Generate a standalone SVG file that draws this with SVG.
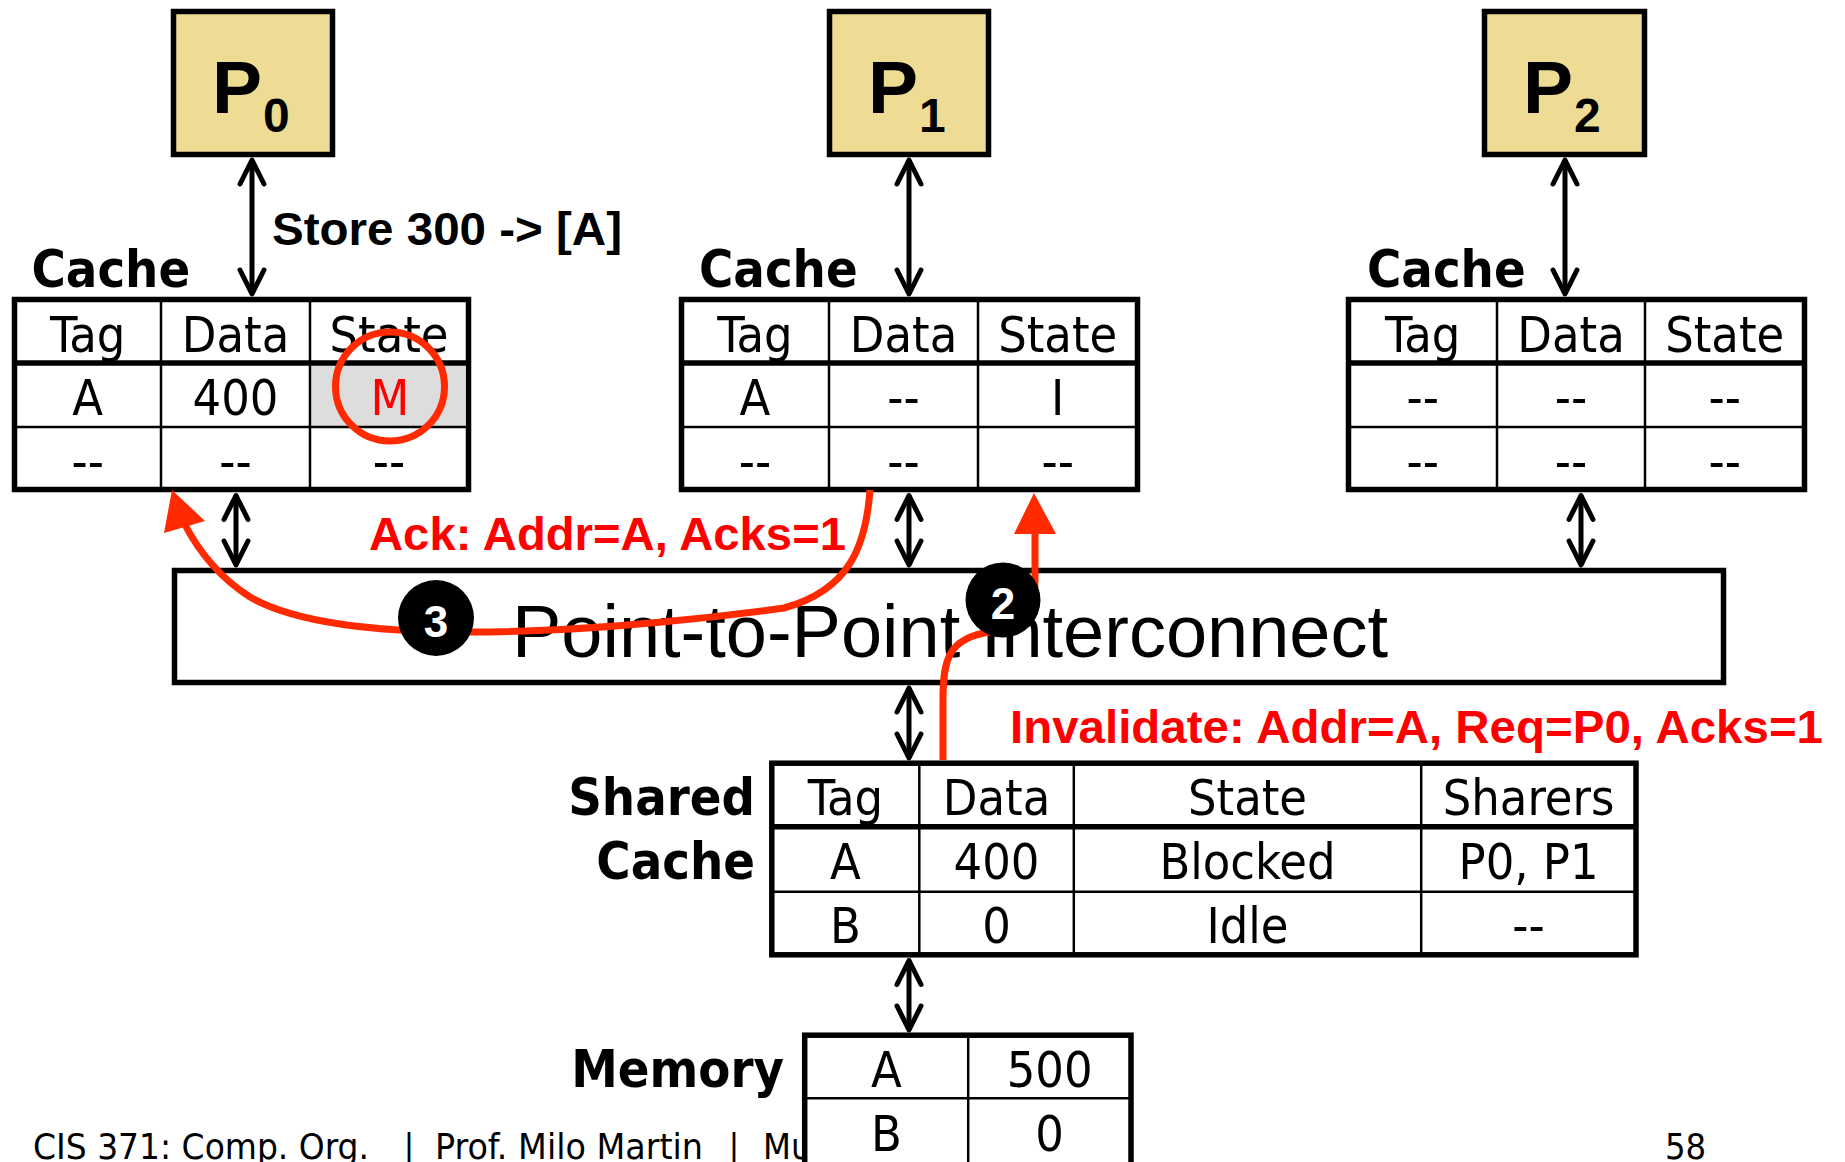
<svg xmlns="http://www.w3.org/2000/svg" width="1845" height="1162" viewBox="0 0 1845 1162">
<style>
.box{fill:#EEDC95;stroke:#000;stroke-width:5.5}
.tbl{fill:#fff;stroke:#000;stroke-width:5.5}
.thick{stroke:#000;stroke-width:5.5}
.thin{stroke:#000;stroke-width:2.5}
.cell{font-family:'DejaVu Sans Condensed','DejaVu Sans',sans-serif;font-size:50px;text-anchor:middle;fill:#000}
.lbl{font-family:'DejaVu Sans Condensed','DejaVu Sans',sans-serif;font-weight:bold;font-size:52px;fill:#000}
.ptxt{font-family:'Liberation Sans',Arial,sans-serif;font-weight:bold;fill:#000}
.arr{stroke:#000;stroke-width:5;fill:none;marker-start:url(#ch);marker-end:url(#ch)}
.red{stroke:#FF2A00;stroke-width:7;fill:none}
.redhead{fill:#FF2A00}
.rtxt{font-family:'Liberation Sans',Arial,sans-serif;font-weight:bold;font-size:47px;fill:#FF0000}
.badge{fill:#000}
.btxt{font-family:'Liberation Sans',Arial,sans-serif;font-weight:bold;font-size:44px;fill:#fff;text-anchor:middle}
.foot{font-family:'DejaVu Sans Condensed','DejaVu Sans',sans-serif;font-size:36px;fill:#000}
</style>
<defs>
<marker id="ch" viewBox="-30 -15 34 30" refX="0" refY="0" markerWidth="34" markerHeight="30" markerUnits="userSpaceOnUse" orient="auto-start-reverse" overflow="visible">
<path d="M-24,-12 L0,0 L-24,12" fill="none" stroke="#000" stroke-width="5" stroke-linecap="round" stroke-linejoin="round"/>
</marker>
</defs>
<rect x="0" y="0" width="1845" height="1162" fill="#fff"/>

<!-- footer (partly covered by memory table) -->
<g id="footer" class="foot">
<text x="33" y="1159" textLength="336" lengthAdjust="spacingAndGlyphs">CIS 371: Comp. Org.</text>
<text x="409" y="1159" text-anchor="middle">|</text>
<text x="435" y="1159" textLength="268" lengthAdjust="spacingAndGlyphs">Prof. Milo Martin</text>
<text x="734" y="1159" text-anchor="middle">|</text>
<text x="763" y="1159">Mu</text>
<text x="1665" y="1159">58</text>
</g>

<!-- processors -->
<g id="p0">
<rect class="box" x="173.5" y="11.5" width="159" height="143"/>
<text class="ptxt" x="212" y="113" font-size="75">P</text>
<text class="ptxt" x="263" y="132" font-size="48">0</text>
</g>
<g id="p1">
<rect class="box" x="829.5" y="11.5" width="159" height="143"/>
<text class="ptxt" x="868" y="113" font-size="75">P</text>
<text class="ptxt" x="919" y="132" font-size="48">1</text>
</g>
<g id="p2">
<rect class="box" x="1484.5" y="11.5" width="160" height="143"/>
<text class="ptxt" x="1523" y="113" font-size="75">P</text>
<text class="ptxt" x="1574" y="132" font-size="48">2</text>
</g>

<!-- private caches -->
<g id="cache0">
<text class="lbl" x="31.5" y="287">Cache</text>
<rect class="tbl" x="14.5" y="299.5" width="454" height="190"/>
<rect x="311.5" y="365.5" width="154" height="60.5" fill="#DDDDDD"/>
<line class="thick" x1="14.5" y1="363" x2="468.5" y2="363"/>
<line class="thin" x1="14.5" y1="427" x2="468.5" y2="427"/>
<line class="thin" x1="161" y1="299.5" x2="161" y2="489.5"/>
<line class="thin" x1="310" y1="299.5" x2="310" y2="489.5"/>
<text class="cell" x="87.7" y="352">Tag</text>
<text class="cell" x="235.5" y="352">Data</text>
<text class="cell" x="389" y="352">State</text>
<text class="cell" x="87.7" y="415">A</text>
<text class="cell" x="235.5" y="415">400</text>
<text class="cell" x="390" y="415" style="fill:#FF0000">M</text>
<text class="cell" x="87.7" y="479">--</text>
<text class="cell" x="235.5" y="479">--</text>
<text class="cell" x="389" y="479">--</text>
<circle cx="390" cy="386.5" r="54.5" fill="none" stroke="#FF2A00" stroke-width="7"/>
</g>
<g id="cache1">
<text class="lbl" x="699" y="287">Cache</text>
<rect class="tbl" x="681.5" y="299.5" width="456" height="190"/>
<line class="thick" x1="681.5" y1="363" x2="1137.5" y2="363"/>
<line class="thin" x1="681.5" y1="427" x2="1137.5" y2="427"/>
<line class="thin" x1="829" y1="299.5" x2="829" y2="489.5"/>
<line class="thin" x1="978" y1="299.5" x2="978" y2="489.5"/>
<text class="cell" x="755" y="352">Tag</text>
<text class="cell" x="903.5" y="352">Data</text>
<text class="cell" x="1057.7" y="352">State</text>
<text class="cell" x="755" y="415">A</text>
<text class="cell" x="903.5" y="415">--</text>
<text class="cell" x="1057.7" y="415">I</text>
<text class="cell" x="755" y="479">--</text>
<text class="cell" x="903.5" y="479">--</text>
<text class="cell" x="1057.7" y="479">--</text>
</g>
<g id="cache2">
<text class="lbl" x="1367" y="287">Cache</text>
<rect class="tbl" x="1348.5" y="299.5" width="456" height="190"/>
<line class="thick" x1="1348.5" y1="363" x2="1804.5" y2="363"/>
<line class="thin" x1="1348.5" y1="427" x2="1804.5" y2="427"/>
<line class="thin" x1="1497" y1="299.5" x2="1497" y2="489.5"/>
<line class="thin" x1="1645" y1="299.5" x2="1645" y2="489.5"/>
<text class="cell" x="1422.7" y="352">Tag</text>
<text class="cell" x="1571" y="352">Data</text>
<text class="cell" x="1724.7" y="352">State</text>
<text class="cell" x="1422.7" y="415">--</text>
<text class="cell" x="1571" y="415">--</text>
<text class="cell" x="1724.7" y="415">--</text>
<text class="cell" x="1422.7" y="479">--</text>
<text class="cell" x="1571" y="479">--</text>
<text class="cell" x="1724.7" y="479">--</text>
</g>

<!-- interconnect -->
<g id="interconnect">
<rect x="174.5" y="570.5" width="1549" height="112" fill="#fff" stroke="#000" stroke-width="5.5"/>
<text x="950" y="657" font-family="'Liberation Sans',Arial,sans-serif" font-size="74" text-anchor="middle" fill="#000">Point-to-Point Interconnect</text>
</g>

<!-- shared cache -->
<g id="shared-cache">
<text class="lbl" x="755" y="815" text-anchor="end">Shared</text>
<text class="lbl" x="755" y="879" text-anchor="end">Cache</text>
<rect class="tbl" x="771.8" y="763.2" width="864.2" height="191.6"/>
<line class="thick" x1="771.8" y1="826.7" x2="1636" y2="826.7"/>
<line class="thin" x1="771.8" y1="891.7" x2="1636" y2="891.7"/>
<line class="thin" x1="919.3" y1="763.2" x2="919.3" y2="954.8"/>
<line class="thin" x1="1073.8" y1="763.2" x2="1073.8" y2="954.8"/>
<line class="thin" x1="1421.2" y1="763.2" x2="1421.2" y2="954.8"/>
<text class="cell" x="845.5" y="815">Tag</text>
<text class="cell" x="996.5" y="815">Data</text>
<text class="cell" x="1247.5" y="815">State</text>
<text class="cell" x="1528.6" y="815">Sharers</text>
<text class="cell" x="845.5" y="879">A</text>
<text class="cell" x="996.5" y="879">400</text>
<text class="cell" x="1247.5" y="879">Blocked</text>
<text class="cell" x="1528.6" y="879">P0, P1</text>
<text class="cell" x="845.5" y="943">B</text>
<text class="cell" x="996.5" y="943">0</text>
<text class="cell" x="1247.5" y="943">Idle</text>
<text class="cell" x="1528.6" y="943">--</text>
</g>

<!-- memory -->
<g id="memory">
<text class="lbl" x="784" y="1087" text-anchor="end">Memory</text>
<rect class="tbl" x="804.7" y="1035.2" width="326.3" height="140"/>
<line class="thin" x1="804.7" y1="1098.3" x2="1131" y2="1098.3"/>
<line class="thin" x1="968.2" y1="1035.2" x2="968.2" y2="1175"/>
<text class="cell" x="886.5" y="1087">A</text>
<text class="cell" x="1049.6" y="1087">500</text>
<text class="cell" x="886.5" y="1151">B</text>
<text class="cell" x="1049.6" y="1151">0</text>
</g>

<!-- connectors -->
<g id="connectors">
<line class="arr" x1="252" y1="160" x2="252" y2="294"/>
<line class="arr" x1="909" y1="160" x2="909" y2="294"/>
<line class="arr" x1="1565" y1="160" x2="1565" y2="294"/>
<line class="arr" x1="236" y1="495.5" x2="236" y2="565"/>
<line class="arr" x1="909" y1="495.5" x2="909" y2="565"/>
<line class="arr" x1="1581" y1="495.5" x2="1581" y2="565"/>
<line class="arr" x1="909" y1="688" x2="909" y2="758"/>
<line class="arr" x1="909" y1="960.5" x2="909" y2="1030"/>
<text class="ptxt" x="272" y="245" font-size="47" textLength="350" lengthAdjust="spacingAndGlyphs">Store 300 -&gt; [A]</text>
<path class="red" d="M870,490 C866,545 850,590 784,608 C740,614 600,632 470,632 C360,632 290,620 250,597 C220,578 198,550 184,523"/>
<polygon class="redhead" points="172,490 164,533 205,521"/>
<path class="red" d="M943,760 L943,700 C943,660 948,638 990,632 C1025,628 1035,612 1035,580 L1035,528"/>
<polygon class="redhead" points="1034,493 1014,534 1056,534"/>
<text class="rtxt" x="369" y="550" textLength="477" lengthAdjust="spacingAndGlyphs">Ack: Addr=A, Acks=1</text>
<text class="rtxt" x="1010" y="743" textLength="813" lengthAdjust="spacingAndGlyphs">Invalidate: Addr=A, Req=P0, Acks=1</text>
</g>

<g id="badge3">
<circle class="badge" cx="436" cy="618" r="38"/>
<text class="btxt" x="436" y="637">3</text>
</g>
<g id="badge2">
<circle class="badge" cx="1003" cy="600" r="37.5"/>
<text class="btxt" x="1003" y="619">2</text>
</g>
</svg>
